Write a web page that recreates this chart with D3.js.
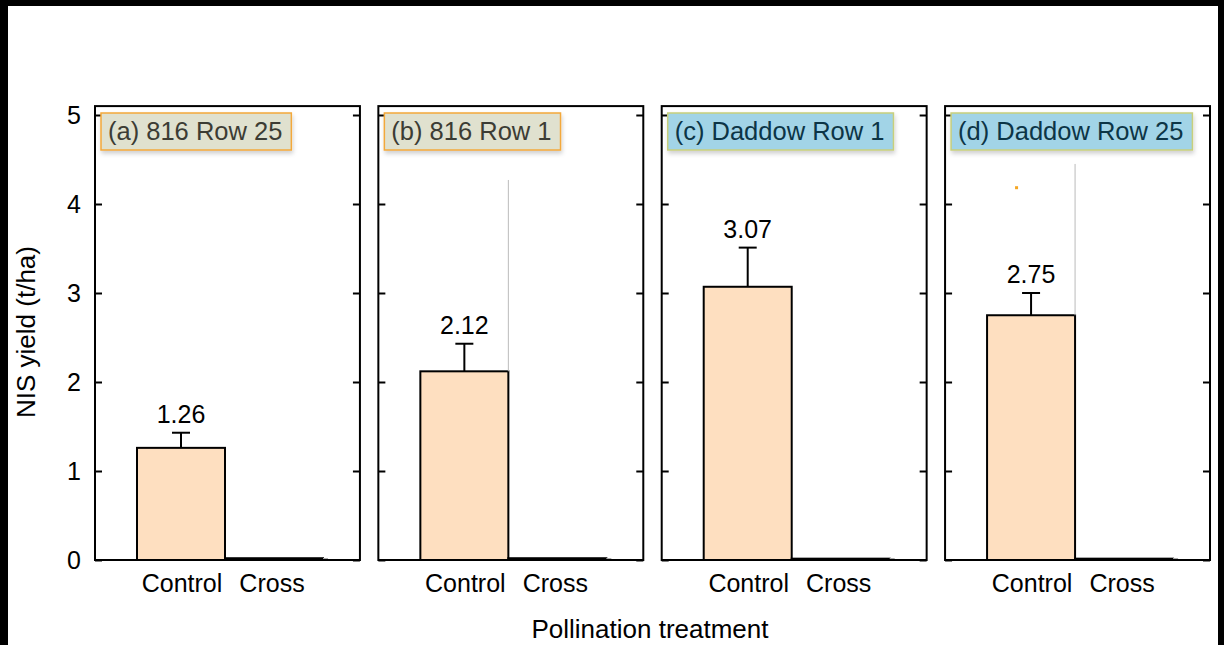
<!DOCTYPE html>
<html>
<head>
<meta charset="utf-8">
<script src="https://cdn.jsdelivr.net/npm/d3@7/dist/d3.min.js"></script>
<style>
  html, body { margin: 0; padding: 0; background: #000; }
  svg { display: block; }
  text { font-family: "Liberation Sans", Arial, sans-serif; }
</style>
</head>
<body>
<svg id="chart" width="1224" height="645"></svg>
<script>
// Panels: site and row
const panels = ["(a) 816 Row 25", "(b) 816 Row 1", "(c) Daddow Row 1", "(d) Daddow Row 25"];
const treatments = ["Control", "Cross"];
// NIS yield (t/ha), mean and standard error
const controlYield = [1.26, 2.12, 3.07, 2.75];
const controlErr = [0.17, 0.31, 0.44, 0.25];
const crossYield = [0.02, 0.02, 0.015, 0.015];
const yTicks = [0, 1, 2, 3, 4, 5];

// Title box palette per panel (816 = beige/orange, Daddow = blue/olive)
const boxFill = ["#e0e1cf", "#e0e1cf", "#a2d4e7", "#a2d4e7"];
const boxStroke = ["#f3a83b", "#f3a83b", "#c7cf7c", "#c7cf7c"];
const boxText = ["#3c3c34", "#3c3c34", "#0c3546", "#0c3546"];
const crossFill = ["#0a0000", "#7d0000", "#140000", "#3a0000"];

const svg = d3.select("#chart");

// black page edge with white canvas
svg.append("rect").attr("x", 8).attr("y", 6).attr("width", 1210).attr("height", 645)
  .attr("fill", "#fff");

const defs = svg.append("defs");
const f = defs.append("filter").attr("id", "shadow")
  .attr("x", "-10%").attr("y", "-30%").attr("width", "130%").attr("height", "170%");
f.append("feDropShadow").attr("dx", 1).attr("dy", 3).attr("stdDeviation", 2)
  .attr("flood-color", "#000").attr("flood-opacity", 0.18);

const panelX = d3.scaleBand().domain(panels).range([95, 1210]).paddingInner(0.065).paddingOuter(0);
const pw = panelX.bandwidth();
const y = d3.scaleLinear().domain([0, 5]).range([560, 115]);
const yTop = y(5.1);
const xb = d3.scaleBand().domain(treatments).range([42, 222]).paddingInner(0).paddingOuter(0);
const bw = xb.bandwidth();

panels.forEach((p, i) => {
  const g = svg.append("g").attr("transform", `translate(${panelX(p)},0)`);

  // bars
  const ctrlW = bw - 2;
  g.append("rect")
    .attr("x", xb("Control")).attr("width", ctrlW)
    .attr("y", y(controlYield[i])).attr("height", y(0) - y(controlYield[i]))
    .attr("fill", "#fedfc0").attr("stroke", "#000").attr("stroke-width", 2);
  g.append("rect")
    .attr("x", xb("Control") + ctrlW).attr("width", bw + 8)
    .attr("y", y(crossYield[i])).attr("height", y(0) - y(crossYield[i]))
    .attr("fill", crossFill[i]).attr("stroke", "#000").attr("stroke-width", 2);
  g.append("line")
    .attr("x1", xb("Control") + ctrlW + bw + 8).attr("x2", xb("Control") + ctrlW + bw + 13)
    .attr("y1", y(0) - 1).attr("y2", y(0) - 1)
    .attr("stroke", "#aaa").attr("stroke-width", 2);

  // error bar
  const cx = xb("Control") + ctrlW / 2;
  const top = controlYield[i] + controlErr[i];
  g.append("line").attr("x1", cx).attr("x2", cx)
    .attr("y1", y(controlYield[i])).attr("y2", y(top))
    .attr("stroke", "#000").attr("stroke-width", 2);
  g.append("line").attr("x1", cx - 9).attr("x2", cx + 9)
    .attr("y1", y(top)).attr("y2", y(top))
    .attr("stroke", "#000").attr("stroke-width", 2);

  // value label
  g.append("text").attr("x", cx).attr("y", y(top) - 10)
    .attr("text-anchor", "middle").attr("font-size", 25).attr("fill", "#000")
    .text(controlYield[i].toFixed(2));

  // frame and inward ticks on both sides
  g.append("rect").attr("x", 0).attr("y", yTop).attr("width", pw).attr("height", y(0) - yTop)
    .attr("fill", "none").attr("stroke", "#000").attr("stroke-width", 2);
  const left = g.append("g").call(d3.axisRight(y).tickValues(yTicks).tickSize(7).tickFormat(""));
  const right = g.append("g").attr("transform", `translate(${pw},0)`)
    .call(d3.axisLeft(y).tickValues(yTicks).tickSize(7).tickFormat(""));
  [left, right].forEach(a => {
    a.select(".domain").remove();
    a.selectAll("line").attr("stroke", "#000").attr("stroke-width", 2);
  });

  // category labels
  const xa = g.append("g").attr("transform", `translate(0,${y(0)})`)
    .call(d3.axisBottom(xb).tickSize(0).tickPadding(14));
  xa.select(".domain").remove();
  xa.selectAll("text").attr("font-size", 25).attr("fill", "#000")
    .attr("font-family", "'Liberation Sans', Arial, sans-serif");

  // panel title box
  const tb = g.append("g").attr("filter", "url(#shadow)");
  const bx = tb.append("rect").attr("y", 113).attr("height", 37).attr("x", 6)
    .attr("fill", boxFill[i]).attr("stroke", boxStroke[i]).attr("stroke-width", 1.5);
  const tt = g.append("text").attr("x", 13).attr("y", 140).attr("font-size", 25.5)
    .attr("fill", boxText[i]).text(p);
  const w = tt.node().getComputedTextLength();
  bx.attr("width", w + 16);
});

// thin guide lines beside the control bars in (b) and (d), and a marker in (d)
[[1, 4.27], [3, 4.45]].forEach(([k, v]) => {
  const lx = panelX(panels[k]) + xb("Control") + bw - 2;
  svg.append("line").attr("x1", lx).attr("x2", lx)
    .attr("y1", y(v)).attr("y2", y(controlYield[k]))
    .attr("stroke", "#bbb").attr("stroke-width", 1);
});
svg.append("rect")
  .attr("x", panelX(panels[3]) + 70).attr("y", y(4.2)).attr("width", 3).attr("height", 3)
  .attr("fill", "#f5a623");

// y tick labels
const ya = svg.append("g").attr("transform", `translate(95,0)`)
  .call(d3.axisLeft(y).tickValues(yTicks).tickSize(0).tickPadding(14).tickFormat(d3.format("d")));
ya.select(".domain").remove();
ya.selectAll("text").attr("font-size", 25).attr("fill", "#000")
  .attr("font-family", "'Liberation Sans', Arial, sans-serif");

// axis titles
svg.append("text").attr("transform", "translate(35,332) rotate(-90)")
  .attr("text-anchor", "middle").attr("font-size", 26).attr("fill", "#000")
  .text("NIS yield (t/ha)");
svg.append("text").attr("x", 650).attr("y", 638)
  .attr("text-anchor", "middle").attr("font-size", 26).attr("fill", "#000")
  .text("Pollination treatment");
</script>
</body>
</html>
